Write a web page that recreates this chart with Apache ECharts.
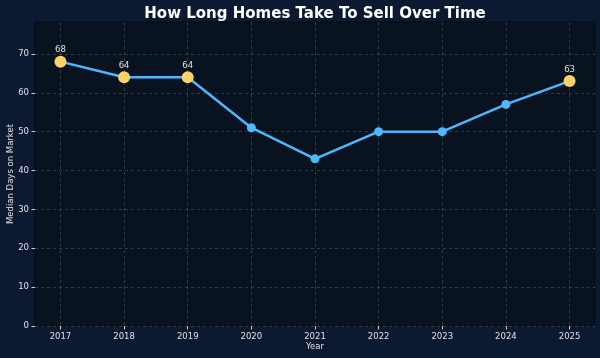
<!DOCTYPE html>
<html><head><meta charset="utf-8">
<script src="https://cdn.jsdelivr.net/npm/echarts@6/dist/echarts.min.js"></script>
<style>html,body{margin:0;padding:0;background:#0b1a30}#c{width:600px;height:358px}</style>
</head><body><div id="c"></div>
<script>
const years = [2017, 2018, 2019, 2020, 2021, 2022, 2023, 2024, 2025];
const medianDays = [68, 64, 64, 51, 43, 50, 50, 57, 63];
const highlightYears = [2017, 2018, 2019, 2025];
const yTicks = [0, 10, 20, 30, 40, 50, 60, 70];

const font = 'DejaVu Sans';
const pts = years.map((y, i) => {
  const hi = highlightYears.includes(y);
  return {
    value: [y, medianDays[i]],
    symbolSize: hi ? 12 : 9,
    itemStyle: { color: hi ? '#ffd166' : '#4db8ff' },
    label: { show: hi }
  };
});

const chart = echarts.init(document.getElementById('c'), null, { renderer: 'canvas' });
chart.setOption({
  backgroundColor: '#0b1a30',
  animation: false,
  title: {
    text: 'How Long Homes Take To Sell Over Time',
    left: 310, textAlign: 'center', top: 2,
    textStyle: { color: '#ffffff', fontFamily: font, fontWeight: 'bold', fontSize: 15 }
  },
  grid: {
    left: 35, right: 5, top: 22, bottom: 32,
    outerBoundsMode: 'none', containLabel: false,
    show: true, backgroundColor: '#08131f', borderColor: '#050a10', borderWidth: 1
  },
  xAxis: {
    type: 'value', min: 2016.6, max: 2025.4,
    name: 'Year', nameLocation: 'middle', nameGap: 16, nameMoveOverlap: false,
    nameTextStyle: { color: '#e0e0e0', fontFamily: font, fontSize: 8.5 },
    axisLine: { show: false },
    axisTick: { show: true, customValues: years, length: 3.5, lineStyle: { color: '#cccccc' } },
    axisLabel: { customValues: years, color: '#e0e0e0', fontFamily: font, fontSize: 8.5, margin: 6,
      formatter: v => String(Math.round(v)) },
    splitLine: { show: true, lineStyle: { color: '#3a4656', type: [3, 3], width: 0.8 } }
  },
  yAxis: {
    type: 'value', min: 0, max: 78.2,
    name: 'Median Days on Market', nameLocation: 'middle', nameGap: 20, nameMoveOverlap: false,
    nameTextStyle: { color: '#e0e0e0', fontFamily: font, fontSize: 8.5 },
    axisLine: { show: false },
    axisTick: { show: true, customValues: yTicks, length: 3.5, lineStyle: { color: '#cccccc' } },
    axisLabel: { customValues: yTicks, color: '#e0e0e0', fontFamily: font, fontSize: 8.5, margin: 6 },
    splitLine: { show: true, lineStyle: { color: '#3a4656', type: [3, 3], width: 0.8 } }
  },
  series: [{
    type: 'line',
    data: pts,
    symbol: 'circle',
    lineStyle: { color: '#4db8ff', width: 2.5 },
    label: { position: 'top', distance: 1, color: '#e0e0e0', fontFamily: font, fontSize: 8.5,
      formatter: p => String(p.value[1]) },
    z: 3
  }]
});
</script></body></html>
